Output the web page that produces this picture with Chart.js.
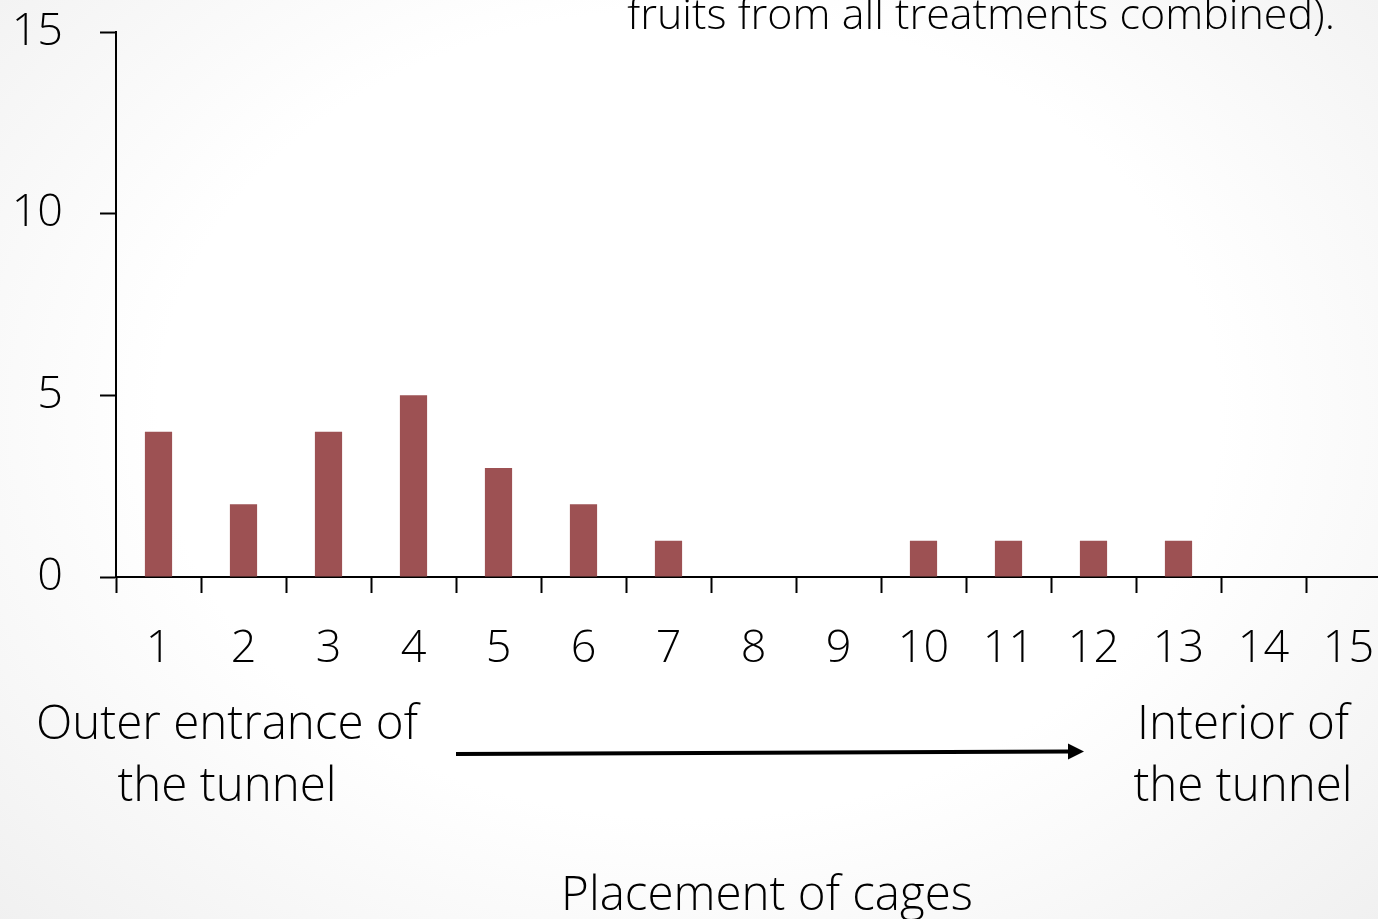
<!DOCTYPE html>
<html>
<head>
<meta charset="utf-8">
<script src="https://cdn.jsdelivr.net/npm/chart.js@4.4.1/dist/chart.umd.min.js"></script>
<style>
  html, body {
    margin: 0;
    padding: 0;
    width: 1378px;
    height: 919px;
    overflow: hidden;
    background: radial-gradient(ellipse 70% 80% at 50% 45%, #ffffff 55%, #f0f0f0 100%);
  }
  #wrap { width: 1400px; height: 919px; }
</style>
</head>
<body>
<div id="wrap"><canvas id="chart" width="1400" height="919"></canvas></div>
<script>
const cages = ['1', '2', '3', '4', '5', '6', '7', '8', '9', '10', '11', '12', '13', '14', '15']
const counts = [4, 2, 4, 5, 3, 2, 1, 0, 0, 1, 1, 1, 1, 0, 0]
const yTicks = [0, 5, 10, 15]

const FONT = "'Open Sans', 'DejaVu Sans', sans-serif"

// title fragment, direction arrow and axis caption
const annotations = {
  id: 'annotations',
  afterDraw(chart) {
    const ctx = chart.ctx
    ctx.save()
    ctx.fillStyle = '#000'
    ctx.textBaseline = 'alphabetic'

    ctx.font = `300 43px ${FONT}`
    ctx.textAlign = 'right'
    ctx.fillText('fruits from all treatments combined).', 1335, 29)

    ctx.font = `300 47.5px ${FONT}`
    ctx.textAlign = 'center'
    ctx.fillText('Outer entrance of', 227, 739)
    ctx.fillText('the tunnel', 227, 801)
    ctx.fillText('Interior of', 1243, 739)
    ctx.fillText('the tunnel', 1243, 801)
    ctx.fillText('Placement of cages', 767, 910)

    // arrow
    ctx.strokeStyle = '#000'
    ctx.lineWidth = 4
    ctx.beginPath()
    ctx.moveTo(456, 754)
    ctx.lineTo(1070, 751.5)
    ctx.stroke()
    ctx.beginPath()
    ctx.moveTo(1084, 751.5)
    ctx.lineTo(1068, 743.5)
    ctx.lineTo(1068, 759.5)
    ctx.closePath()
    ctx.fill()
    ctx.restore()
  }
}

new Chart(document.getElementById('chart'), {
  type: 'bar',
  data: {
    labels: cages,
    datasets: [
      {
        data: counts,
        backgroundColor: '#9d5153',
        borderWidth: 0,
        barPercentage: 0.32,
        categoryPercentage: 1,
      },
    ],
  },
  options: {
    responsive: false,
    animation: false,
    devicePixelRatio: 1,
    layout: {
      padding: { top: 32, right: 9, left: 0, bottom: 0 },
    },
    plugins: {
      legend: { display: false },
      tooltip: { enabled: false },
    },
    scales: {
      x: {
        afterFit(scale) {
          scale.height = 342
          scale.paddingLeft = 0
          scale.paddingRight = 0
        },
        grid: {
          offset: true,
          drawOnChartArea: false,
          drawTicks: true,
          tickLength: 16,
          tickWidth: 2,
          tickColor: '#000',
        },
        border: { display: true, color: '#000', width: 2 },
        ticks: {
          color: '#000',
          padding: 29,
          maxRotation: 0,
          autoSkip: false,
          font: { family: FONT, size: 45, weight: 300 },
        },
      },
      y: {
        min: 0,
        max: 15,
        afterFit(scale) {
          scale.width = 116
          scale.paddingTop = 0
          scale.paddingBottom = 0
        },
        afterBuildTicks(scale) {
          scale.ticks = yTicks.map(v => ({ value: v }))
        },
        grid: {
          drawOnChartArea: false,
          drawTicks: true,
          tickLength: 16,
          tickWidth: 2,
          tickColor: '#000',
        },
        border: { display: true, color: '#000', width: 2 },
        ticks: {
          color: '#000',
          padding: 37,
          font: { family: FONT, size: 45, weight: 300 },
        },
      },
    },
  },
  plugins: [annotations],
})
</script>
</body>
</html>
